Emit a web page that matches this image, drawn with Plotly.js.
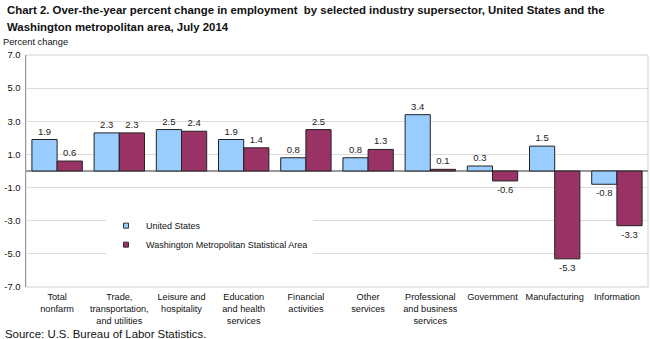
<!DOCTYPE html>
<html><head><meta charset="utf-8">
<script src="https://cdn.plot.ly/plotly-3.0.1.min.js"></script>
<style>body{margin:0;padding:0;background:#fff}#chart{width:650px;height:339px}</style>
</head><body><div id="chart"></div>
<script>
const categories = ["Total<br>nonfarm","Trade,<br>transportation,<br>and utilities","Leisure and<br>hospitality","Education<br>and health<br>services","Financial<br>activities","Other<br>services","Professional<br>and business<br>services","Government","Manufacturing","Information"];
const usValues = [1.9, 2.3, 2.5, 1.9, 0.8, 0.8, 3.4, 0.3, 1.5, -0.8];
const waValues = [0.6, 2.3, 2.4, 1.4, 2.5, 1.3, 0.1, -0.6, -5.3, -3.3];
const seriesNames = ["United States", "Washington Metropolitan Statistical Area"];
const seriesColors = ['#99CCFF', '#993366'];
const yTicks = [-7, -5, -3, -1, 1, 3, 5, 7];
const titleLines = ['Chart 2. Over-the-year percent change in employment  by selected industry supersector, United States and the',
                    'Washington metropolitan area, July 2014'];

const font = "Arial, 'Liberation Sans', sans-serif";
const mk = (name, y, color) => ({
  type: 'bar', name: name, x: categories, y: y, showlegend: false,
  marker: {color: color, line: {color: '#222', width: 1}},
  text: y.map(v => v.toFixed(1)), textposition: 'outside',
  textfont: {family: font, size: 9.5, color: '#222'},
  cliponaxis: false, hoverinfo: 'none'
});
const leg = (name, color) => ({
  type: 'scatter', mode: 'markers', name: name, x: [null], y: [null],
  marker: {symbol: 'square', size: 5, color: color, line: {color: '#333', width: 1}},
  hoverinfo: 'none'
});
const data = [mk(seriesNames[0], usValues, seriesColors[0]), mk(seriesNames[1], waValues, seriesColors[1]),
              leg(seriesNames[0], seriesColors[0]), leg(seriesNames[1], seriesColors[1])];
const layout = {
  width: 650, height: 339,
  margin: {l: 26, r: 2, t: 55, b: 52},
  paper_bgcolor: '#fff', plot_bgcolor: '#fff',
  font: {family: font, size: 10, color: '#111'},
  barmode: 'group', bargap: 0.19, bargroupgap: 0,
  showlegend: true,
  legend: {x: 80/622, y: 0.327, xanchor: 'left', yanchor: 'top', bgcolor: '#fff',
           font: {family: font, size: 9, color: '#111'}, tracegroupgap: 0,
           itemwidth: 30},
  xaxis: {type: 'category', showgrid: false, showline: false, ticks: '', zeroline: false,
          tickfont: {family: font, size: 9.2, color: '#111'}, tickangle: 0, automargin: false,
          ticklabelstandoff: 3},
  yaxis: {range: [-7, 7], tickvals: yTicks, ticktext: yTicks.map(v => v.toFixed(1)),
          showgrid: true, gridcolor: '#dcdcdc', gridwidth: 1,
          zeroline: true, zerolinecolor: '#999', zerolinewidth: 2,
          showline: true, linecolor: '#999', linewidth: 1.5, ticks: '',
          tickfont: {family: font, size: 9.5, color: '#111'}, automargin: false,
          ticklabelstandoff: 2},
  shapes: [{type: 'rect', xref: 'paper', yref: 'paper', x0: 0, x1: 1, y0: 0, y1: 1,
            line: {color: '#d0d0d0', width: 1}, layer: 'below'}],
  annotations: [
    {xref: 'paper', yref: 'paper', x: -25/622, y: 1, xanchor: 'left', yanchor: 'middle',
     yshift: 13, text: 'Percent change', showarrow: false, font: {family: font, size: 9.3, color: '#111'}},
    {xref: 'paper', yref: 'paper', x: -22/622, y: 0, xanchor: 'left', yanchor: 'middle',
     yshift: -47, text: 'Source: U.S. Bureau of Labor Statistics.', showarrow: false,
     borderpad: 0, font: {family: font, size: 11.4, color: '#111'}},
    {xref: 'paper', yref: 'paper', x: -21/622, y: 1, xanchor: 'left', yanchor: 'middle',
     yshift: 45, text: '<b>' + titleLines[0] + '</b>', showarrow: false,
     font: {family: font, size: 11.4, color: '#111'}},
    {xref: 'paper', yref: 'paper', x: -21/622, y: 1, xanchor: 'left', yanchor: 'middle',
     yshift: 28, text: '<b>' + titleLines[1] + '</b>', showarrow: false,
     font: {family: font, size: 11.4, color: '#111'}}
  ]
};
Plotly.newPlot('chart', data, layout, {displayModeBar: false, staticPlot: true});
</script></body></html>
